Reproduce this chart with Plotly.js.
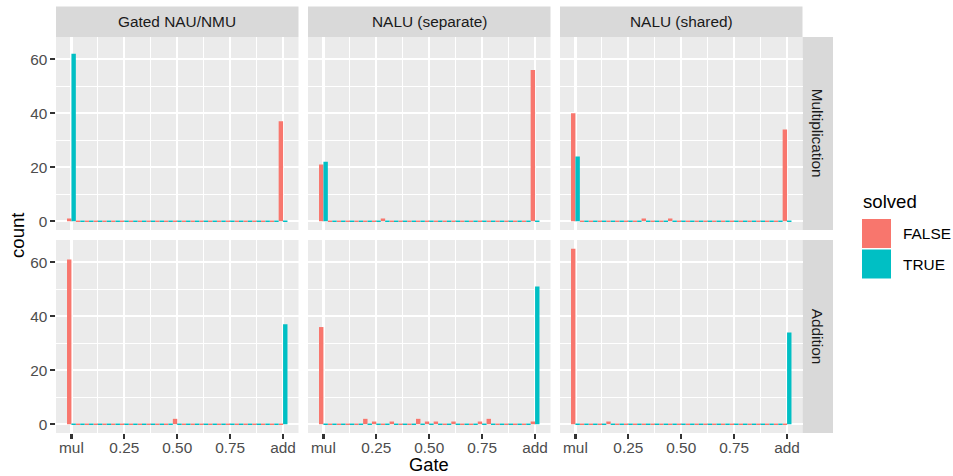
<!DOCTYPE html>
<html>
<head>
<meta charset="utf-8">
<script src="https://cdn.plot.ly/plotly-3.0.1.min.js"></script>
<style>html,body{margin:0;padding:0;background:#fff;}#chart{width:953px;height:476px;}</style>
</head>
<body>
<div id="chart"></div>
<script>
// ---- data ----
// histogram bins (25 bins from mul=0 to add=24, bin width 1/24 of the gate range)
const bins = [0,1,2,3,4,5,6,7,8,9,10,11,12,13,14,15,16,17,18,19,20,21,22,23,24];
const tickBins = [0, 6, 12, 18, 24];
const tickText = ['mul', '0.25', '0.50', '0.75', 'add'];
const colNames = ['Gated NAU/NMU', 'NALU (separate)', 'NALU (shared)'];
const rowNames = ['Multiplication', 'Addition'];
const seriesNames = ['FALSE', 'TRUE'];
const legendTitle = 'solved';
const xTitle = 'Gate';
const yTitle = 'count';
const yTicks = [0, 20, 40, 60];

// counts per bin: FALSE / TRUE for each facet
const gatedMulFalse = [1,0,0,0,0,0,0,0,0,0,0,0,0,0,0,0,0,0,0,0,0,0,0,0,37];
const gatedMulTrue  = [62,0,0,0,0,0,0,0,0,0,0,0,0,0,0,0,0,0,0,0,0,0,0,0,0];
const sepMulFalse   = [21,0,0,0,0,0,0,1,0,0,0,0,0,0,0,0,0,0,0,0,0,0,0,0,56];
const sepMulTrue    = [22,0,0,0,0,0,0,0,0,0,0,0,0,0,0,0,0,0,0,0,0,0,0,0,0];
const shMulFalse    = [40,0,0,0,0,0,0,0,1,0,0,1,0,0,0,0,0,0,0,0,0,0,0,0,34];
const shMulTrue     = [24,0,0,0,0,0,0,0,0,0,0,0,0,0,0,0,0,0,0,0,0,0,0,0,0];
const gatedAddFalse = [61,0,0,0,0,0,0,0,0,0,0,0,2,0,0,0,0,0,0,0,0,0,0,0,0];
const gatedAddTrue  = [0,0,0,0,0,0,0,0,0,0,0,0,0,0,0,0,0,0,0,0,0,0,0,0,37];
const sepAddFalse   = [36,0,0,0,0,2,1,0,1,0,0,2,1,1,0,1,0,0,1,2,0,0,0,0,1];
const sepAddTrue    = [0,0,0,0,0,0,0,0,0,0,0,0,0,0,0,0,0,0,0,0,0,0,0,0,51];
const shAddFalse    = [65,0,0,0,1,0,0,0,0,0,0,0,0,0,0,0,0,0,0,0,0,0,0,0,0];
const shAddTrue     = [0,0,0,0,0,0,0,0,0,0,0,0,0,0,0,0,0,0,0,0,0,0,0,0,34];

const facetData = [
  [[gatedMulFalse, gatedMulTrue], [sepMulFalse, sepMulTrue], [shMulFalse, shMulTrue]],
  [[gatedAddFalse, gatedAddTrue], [sepAddFalse, sepAddTrue], [shAddFalse, shAddTrue]]
];

// ---- styling / layout ----
const W = 953, H = 476;
const colors = ['#F8766D', '#00BFC4'];
const FONT = 'Liberation Sans, Arial, Helvetica, sans-serif';
const SMALL = 15.4, BIG = 18.6;
const colPx = [[56, 298.5], [308, 550.5], [560, 802.5]];
const rowPx = [[37, 230], [240, 433]];
const fx = v => v / W;
const fy = v => 1 - v / H;

const traces = [];
const layout = {
  width: W, height: H,
  margin: {l: 0, r: 0, t: 0, b: 0},
  paper_bgcolor: '#FFFFFF',
  plot_bgcolor: '#EBEBEB',
  barmode: 'overlay',
  showlegend: false,
  font: {family: FONT},
  shapes: [],
  annotations: []
};

for (let r = 0; r < 2; r++) {
  for (let c = 0; c < 3; c++) {
    const idx = r * 3 + c + 1;
    const s = idx === 1 ? '' : String(idx);
    for (let g = 0; g < 2; g++) {
      const counts = facetData[r][c][g];
      traces.push({
        type: 'bar',
        x: bins,
        y: counts,
        xaxis: 'x' + s,
        yaxis: 'y' + s,
        width: 0.5,
        offset: g === 0 ? -0.5 : 0,
        name: seriesNames[g],
        marker: {
          color: colors[g],
          line: {color: colors[g], width: counts.map(v => v === 0 ? 1.7 : 0)}
        },
        hoverinfo: 'x+y+name'
      });
    }
    const bottom = r === 1, left = c === 0;
    layout['xaxis' + s] = {
      domain: [fx(colPx[c][0]), fx(colPx[c][1])],
      anchor: 'y' + s,
      range: [-1.75, 25.75],
      tickmode: 'array', tickvals: tickBins, ticktext: tickText,
      showticklabels: bottom,
      ticks: bottom ? 'outside' : '',
      ticklen: 4.6, tickwidth: 2.2, tickcolor: '#333333',
      ticklabelstandoff: -4,
      tickfont: {size: SMALL, color: '#4D4D4D', family: FONT},
      showgrid: true, gridcolor: '#FFFFFF', gridwidth: 2.2,
      minor: {tickmode: 'array', tickvals: [3, 9, 15, 21], showgrid: true, gridcolor: '#FFFFFF', gridwidth: 1.1, ticks: ''},
      zeroline: false, showline: false, fixedrange: true
    };
    layout['yaxis' + s] = {
      domain: [fy(rowPx[r][1]), fy(rowPx[r][0])],
      anchor: 'x' + s,
      range: [-3.25, 68.25],
      tickmode: 'array', tickvals: yTicks, ticktext: yTicks.map(String),
      showticklabels: left,
      ticks: left ? 'outside' : '',
      ticklen: 4.6, tickwidth: 2.2, tickcolor: '#333333',
      tickfont: {size: SMALL, color: '#4D4D4D', family: FONT},
      showgrid: true, gridcolor: '#FFFFFF', gridwidth: 2.2,
      minor: {tickmode: 'array', tickvals: [10, 30, 50], showgrid: true, gridcolor: '#FFFFFF', gridwidth: 1.1, ticks: ''},
      zeroline: false, showline: false, fixedrange: true
    };
  }
}

// facet strips (top)
for (let c = 0; c < 3; c++) {
  layout.shapes.push({type: 'rect', xref: 'paper', yref: 'paper',
    x0: fx(colPx[c][0]), x1: fx(colPx[c][1]), y0: fy(37), y1: fy(6.5),
    fillcolor: '#D9D9D9', line: {width: 0}, layer: 'below'});
  layout.annotations.push({xref: 'paper', yref: 'paper',
    x: fx((colPx[c][0] + colPx[c][1]) / 2), y: fy(21.8),
    text: colNames[c], showarrow: false, xanchor: 'center', yanchor: 'middle',
    font: {size: SMALL, color: '#1A1A1A', family: FONT}});
}
// facet strips (right)
for (let r = 0; r < 2; r++) {
  layout.shapes.push({type: 'rect', xref: 'paper', yref: 'paper',
    x0: fx(802.5), x1: fx(833), y0: fy(rowPx[r][1]), y1: fy(rowPx[r][0]),
    fillcolor: '#D9D9D9', line: {width: 0}, layer: 'below'});
  layout.annotations.push({xref: 'paper', yref: 'paper',
    x: fx(817.8), y: fy((rowPx[r][0] + rowPx[r][1]) / 2),
    text: rowNames[r], showarrow: false, textangle: 90,
    xanchor: 'center', yanchor: 'middle',
    font: {size: SMALL, color: '#1A1A1A', family: FONT}});
}

// axis titles
layout.annotations.push({xref: 'paper', yref: 'paper', x: fx(429.3), y: 0,
  text: xTitle, showarrow: false, xanchor: 'center', yanchor: 'bottom', borderpad: 0,
  font: {size: 18.3, color: '#000000', family: FONT}});
layout.annotations.push({xref: 'paper', yref: 'paper', x: fx(17), y: fy(235),
  text: yTitle, showarrow: false, textangle: -90, xanchor: 'center', yanchor: 'middle',
  font: {size: BIG, color: '#000000', family: FONT}});

// legend (ggplot style)
layout.annotations.push({xref: 'paper', yref: 'paper', x: fx(860.5), y: fy(201),
  text: legendTitle, showarrow: false, xanchor: 'left', yanchor: 'middle',
  font: {size: BIG, color: '#000000', family: FONT}});
const keyTops = [219, 249.5];
for (let g = 0; g < 2; g++) {
  layout.shapes.push({type: 'rect', xref: 'paper', yref: 'paper',
    x0: fx(862), x1: fx(891), y0: fy(keyTops[g] + 29), y1: fy(keyTops[g]),
    fillcolor: colors[g], line: {width: 0}});
  layout.annotations.push({xref: 'paper', yref: 'paper', x: fx(900.5), y: fy(keyTops[g] + 14.5),
    text: seriesNames[g], showarrow: false, xanchor: 'left', yanchor: 'middle',
    font: {size: SMALL, color: '#000000', family: FONT}});
}

Plotly.newPlot('chart', traces, layout, {displayModeBar: false, staticPlot: true});
</script>
</body>
</html>
